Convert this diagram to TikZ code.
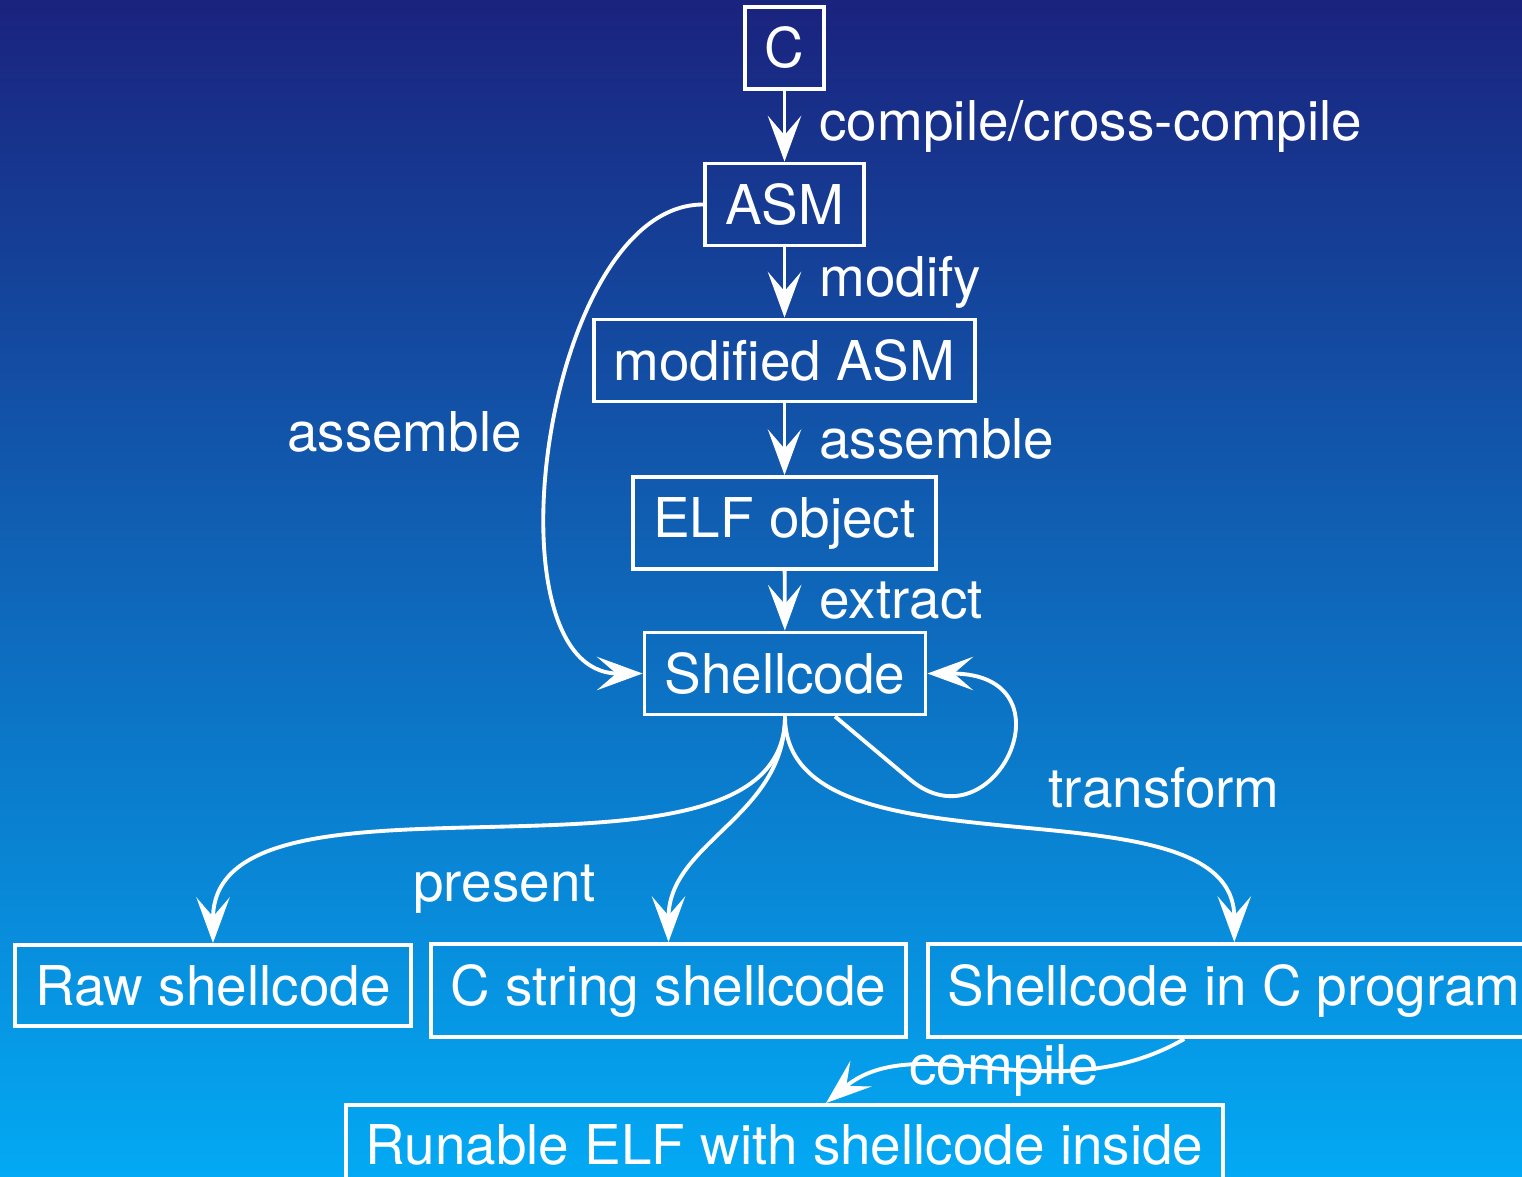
\documentclass[tikz,border=0pt]{standalone}
\usepackage{fontspec}
\setmainfont{TeX Gyre Heros}
\usetikzlibrary{arrows.meta}
\definecolor{bgtop}{HTML}{1A237E}
\definecolor{bgbottom}{HTML}{03A9F4}
\tikzset{
  box/.style={draw=white, line width=1.1pt, inner sep=5.7pt, text=white},
  lbl/.style={inner sep=0pt, text=white},
  flow/.style={draw=white, line width=1.1pt, -{Stealth[length=13pt,width=9.5pt,inset=5.5pt]}}
}
\begin{document}
\begin{tikzpicture}[x=0.01cm, y=0.01cm, font=\fontsize{15.6}{18}\selectfont]
\shade [top color=bgtop, bottom color=bgbottom] (0,0) rectangle (1522,-1176);
\useasboundingbox (0,0) rectangle (1522,-1176);
\clip (0,0) rectangle (1522,-1176);
\node [box] (c) at (784.5,-48) {C};
\node [box] (asm) at (784.5,-204.5) {ASM};
\node [box] (masm) at (784.5,-360.5) {modified ASM};
\node [box] (elf) at (784.5,-523) {ELF object};
\node [box] (sc) at (785,-673.5) {Shellcode};
\node [box, anchor=base] (raw) at (213,-1005) {Raw shellcode};
\node [box, anchor=base] (cstr) at (668.5,-1005) {C string shellcode};
\node [box, anchor=base west] (cprog) at (926,-1005) {Shellcode in C program};
\node [box, anchor=north] (run) at (784.5,-1103) {Runable ELF with shellcode inside};
\node [lbl] (present) at (504.5,-889) {present};
\node [lbl, anchor=west] (transform) at (1048,-788) {transform};
\draw [flow] (c) -- (asm) node [lbl, midway, right=0.33cm] {compile/cross-compile};
\draw [flow] (asm) -- (masm) node [lbl, midway, right=0.33cm] {modify};
\draw [flow] (masm) -- (elf) node [lbl, midway, right=0.33cm] {assemble};
\draw [flow] (elf) -- (sc) node [lbl, midway, right=0.33cm] {extract};
\draw [flow] (asm.west) .. controls +(-160,0) and +(-160,0) .. (sc.west) node [lbl, pos=0.49, left=0.3cm] {assemble};
\draw [flow] ([xshift=0.5cm]sc.south) -- ++(75,-63) .. controls +(-40:110) and +(150,0) .. (sc.east);
\draw [flow] (sc.south) .. controls +(0,-200) and +(0,200) .. (raw.north);
\draw [flow] (sc.south) .. controls +(0,-100) and +(0,100) .. (cstr.north);
\draw [flow] (sc.south) .. controls +(0,-170) and +(0,170) .. (cprog.north);
\draw [flow] ([xshift=-0.5cm]cprog.south) .. controls +(-150:150) and +(40:120) .. ([xshift=0.415cm]run.north) node [lbl, midway, xshift=0.13cm] {compile};
\end{tikzpicture}
\end{document}
